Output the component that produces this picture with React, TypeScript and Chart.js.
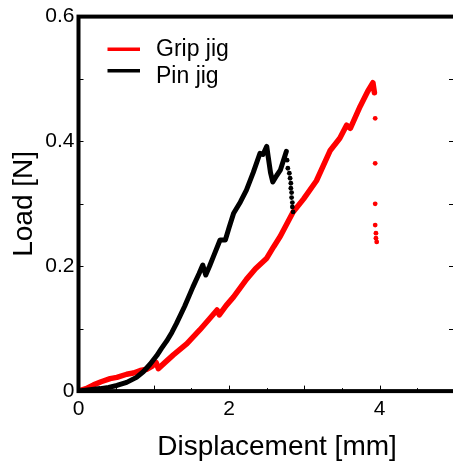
import React, { useEffect, useRef } from "react";
import { Chart, registerables } from "chart.js";

Chart.register(...registerables);

// ---- data ----
const gripX = [0, 0.1, 0.2, 0.3, 0.42, 0.51, 0.64, 0.73, 0.82, 0.91, 0.98, 1.03, 1.06, 1.15, 1.26, 1.44, 1.61, 1.74, 1.84, 1.87, 1.96, 2.06, 2.23, 2.35, 2.5, 2.59, 2.68, 2.85, 2.99, 3.16, 3.34, 3.47, 3.56, 3.61, 3.74, 3.84, 3.91, 3.93,
  3.94, 3.94, 3.94, 3.94, 3.95, 3.95, 3.96];
const gripY = [0, 0.004, 0.01, 0.015, 0.02, 0.022, 0.027, 0.029, 0.033, 0.035, 0.04, 0.046, 0.036, 0.046, 0.058, 0.076, 0.098, 0.116, 0.13, 0.122, 0.137, 0.151, 0.179, 0.196, 0.213, 0.231, 0.248, 0.287, 0.308, 0.337, 0.385, 0.405, 0.426, 0.421, 0.456, 0.48, 0.494, 0.478,
  0.437, 0.365, 0.3, 0.266, 0.253, 0.245, 0.239];
const gripLineCount = 38; // points joined by the line; the rest are isolated dots

const pinX = [0, 0.15, 0.29, 0.4, 0.51, 0.64, 0.77, 0.86, 0.95, 1.04, 1.1, 1.17, 1.24, 1.3, 1.41, 1.52, 1.6, 1.65, 1.69, 1.74, 1.79, 1.88, 1.95, 2.0, 2.06, 2.15, 2.23, 2.32, 2.41, 2.45, 2.5, 2.52, 2.55, 2.58, 2.63, 2.68, 2.76,
  2.77, 2.78, 2.8, 2.81, 2.82, 2.82, 2.83, 2.83, 2.84, 2.84, 2.85];
const pinY = [0, 0.002, 0.004, 0.006, 0.009, 0.014, 0.022, 0.031, 0.043, 0.057, 0.068, 0.08, 0.094, 0.108, 0.136, 0.167, 0.188, 0.202, 0.186, 0.2, 0.215, 0.242, 0.242, 0.262, 0.285, 0.303, 0.322, 0.35, 0.381, 0.379, 0.392, 0.375, 0.35, 0.335, 0.345, 0.354, 0.384,
  0.37, 0.357, 0.349, 0.341, 0.333, 0.325, 0.318, 0.31, 0.302, 0.295, 0.287];
const pinLineCount = 37;

const seriesNames = ["Grip jig", "Pin jig"];
const seriesColors = ["#ff0000", "#000000"];
const xTickLabels = ["0", "2", "4"];
const yTickLabels = ["0", "0.2", "0.4", "0.6"];

const FONT = "'Liberation Sans', Arial, sans-serif";

const pairs = (xs: number[], ys: number[]) => xs.map((x, i) => ({ x, y: ys[i] }));

const framePlugin = {
  id: "frameTicks",
  afterDatasetsDraw(chart: any) {
    const { ctx, chartArea: a, scales } = chart;
    ctx.save();
    ctx.strokeStyle = "#000";
    ctx.lineWidth = 1;
    ctx.beginPath();
    for (const t of scales.y.ticks) {
      const py = Math.round(scales.y.getPixelForValue(t.value)) + 0.5;
      ctx.moveTo(a.left, py);
      ctx.lineTo(a.left + 5, py);
      ctx.moveTo(a.right - 6, py);
      ctx.lineTo(a.right, py);
    }
    for (const t of scales.x.ticks) {
      const px = Math.round(scales.x.getPixelForValue(t.value)) + 0.5;
      const major = Math.abs(t.value - Math.round(t.value)) < 1e-6;
      ctx.moveTo(px, a.bottom);
      ctx.lineTo(px, a.bottom - (major ? 5.5 : 3));
    }
    ctx.stroke();
    ctx.lineWidth = 4;
    ctx.lineCap = "square";
    ctx.strokeRect(a.left, a.top, a.right - a.left, a.bottom - a.top);
    ctx.restore();
  },
};

const legendPlugin = {
  id: "innerLegend",
  afterDraw(chart: any) {
    const { ctx, chartArea: a } = chart;
    ctx.save();
    const lineY = [49.3, 70.7];
    const textY = [56, 83.3];
    chart.data.datasets.forEach((ds: any, i: number) => {
      ctx.strokeStyle = ds.borderColor;
      ctx.lineWidth = 3.5;
      ctx.beginPath();
      ctx.moveTo(a.left + 29, lineY[i]);
      ctx.lineTo(a.left + 61.5, lineY[i]);
      ctx.stroke();
      ctx.fillStyle = "#000";
      ctx.font = `23px ${FONT}`;
      ctx.textBaseline = "alphabetic";
      ctx.textAlign = "left";
      ctx.fillText(ds.label, a.left + 77.5, textY[i]);
    });
    ctx.restore();
  },
};

export default function App() {
  const ref = useRef<HTMLCanvasElement | null>(null);

  useEffect(() => {
    if (!ref.current) return;
    const chart = new Chart(ref.current, {
      type: "line",
      data: {
        datasets: [
          {
            label: seriesNames[0],
            data: pairs(gripX, gripY),
            borderColor: seriesColors[0],
            backgroundColor: seriesColors[0],
            borderWidth: 5.5,
            borderJoinStyle: "round",
            borderCapStyle: "round",
            pointRadius: (c: any) => (c.dataIndex >= gripLineCount ? 2.4 : 0),
            pointBorderWidth: 0,
            pointBackgroundColor: seriesColors[0],
            segment: {
              borderColor: (c: any) => (c.p1DataIndex >= gripLineCount ? "rgba(0,0,0,0)" : seriesColors[0]),
            },
            tension: 0,
            order: 1,
          },
          {
            label: seriesNames[1],
            data: pairs(pinX, pinY),
            borderColor: seriesColors[1],
            backgroundColor: seriesColors[1],
            borderWidth: 5,
            borderJoinStyle: "round",
            borderCapStyle: "round",
            pointRadius: (c: any) => (c.dataIndex >= pinLineCount ? 2.4 : 0),
            pointBorderWidth: 0,
            pointBackgroundColor: seriesColors[1],
            segment: {
              borderColor: (c: any) => (c.p1DataIndex >= pinLineCount ? "rgba(0,0,0,0)" : seriesColors[1]),
            },
            tension: 0,
            order: 0,
          },
        ],
      },
      options: {
        responsive: false,
        animation: false,
        events: [],
        layout: { padding: { top: 16.5, left: 0, right: 0, bottom: 0 } },
        plugins: {
          legend: { display: false },
          tooltip: { enabled: false },
          title: {
            display: true,
            position: "bottom",
            text: "Displacement [mm]",
            color: "#000",
            font: { family: FONT, size: 28, weight: "normal" },
            padding: { top: 0, bottom: 1 },
          },
        },
        scales: {
          x: {
            type: "linear",
            min: 0,
            max: 5,
            grid: { display: false, drawTicks: false },
            border: { display: false },
            ticks: {
              stepSize: 0.5,
              autoSkip: false,
              maxRotation: 0,
              padding: 6,
              color: "#000",
              font: { family: FONT, size: 21 },
              callback: (v: any) => {
                const s = String(v);
                return xTickLabels.includes(s) ? s : "";
              },
            },
            afterFit: (s: any) => {
              s.height = 39.3;
            },
          },
          y: {
            type: "linear",
            position: "left",
            min: 0,
            max: 0.6,
            grid: { display: false, drawTicks: false },
            border: { display: false },
            ticks: {
              stepSize: 0.1,
              autoSkip: false,
              padding: 4,
              color: "#000",
              font: { family: FONT, size: 21 },
              callback: (v: any) => {
                const k = Math.round(Number(v) * 10);
                const s = k === 0 ? "0" : (k / 10).toFixed(1);
                return yTickLabels.includes(s) ? s : "";
              },
            },
            title: {
              display: true,
              text: "Load [N]",
              color: "#000",
              font: { family: FONT, size: 28, weight: "normal" },
              padding: { top: 7, bottom: 0 },
            },
            afterFit: (s: any) => {
              s.width = 78.5;
            },
          },
          yR: {
            type: "linear",
            position: "right",
            min: 0,
            max: 0.6,
            grid: { display: false, drawTicks: false },
            border: { display: false },
            ticks: { display: false },
            afterFit: (s: any) => {
              s.width = 99;
            },
          },
        },
      },
      plugins: [framePlugin, legendPlugin],
    } as any);
    return () => chart.destroy();
  }, []);

  return (
    <div style={{ position: "fixed", left: 0, top: 0, width: 453, height: 465, overflow: "hidden", background: "#fff" }}>
      <canvas ref={ref} width={554} height={465} style={{ display: "block" }} />
    </div>
  );
}
